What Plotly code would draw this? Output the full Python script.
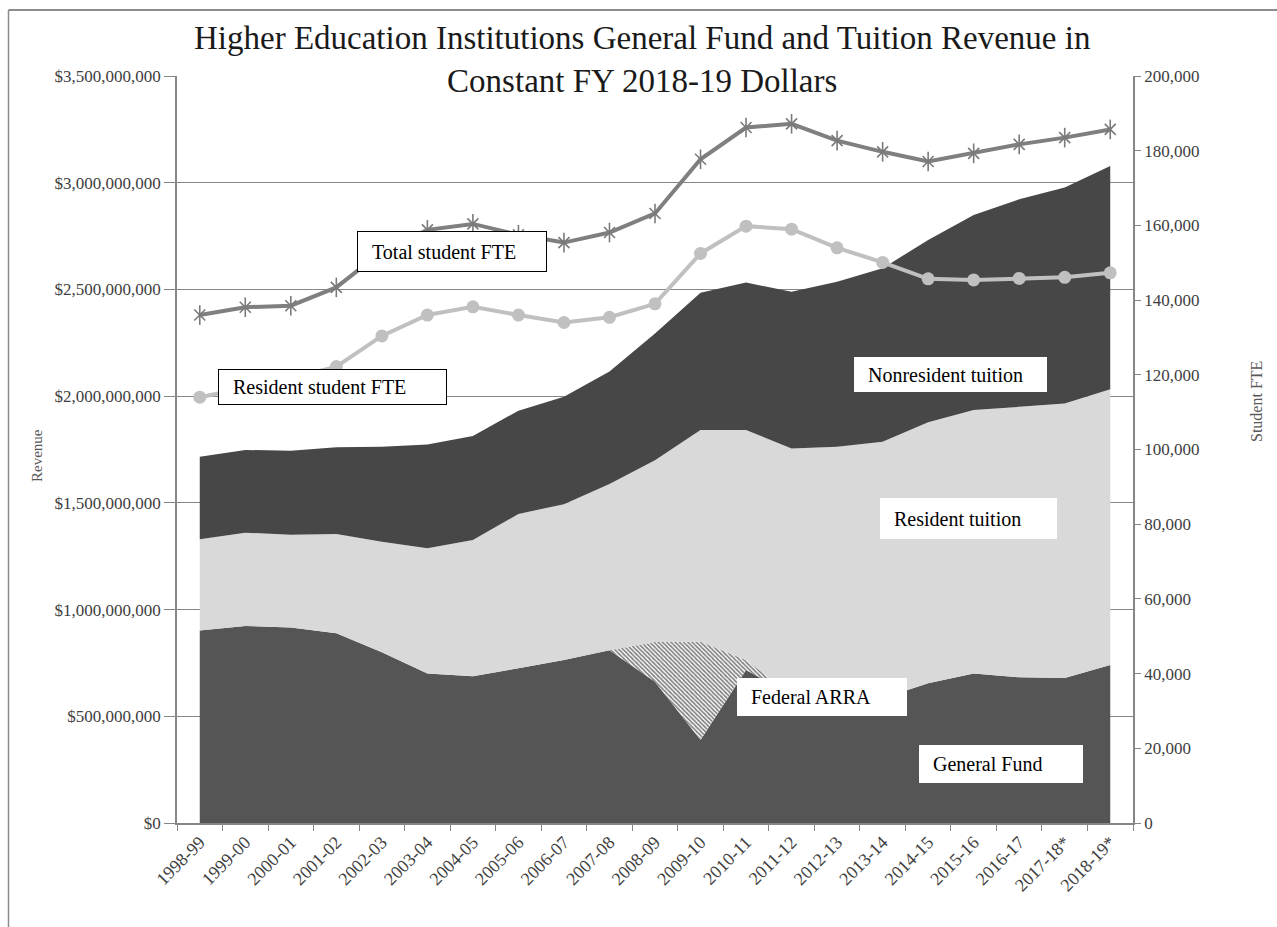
import plotly.graph_objects as go

# ---------------- data ----------------
years = ["1998-99", "1999-00", "2000-01", "2001-02", "2002-03", "2003-04", "2004-05",
         "2005-06", "2006-07", "2007-08", "2008-09", "2009-10", "2010-11", "2011-12",
         "2012-13", "2013-14", "2014-15", "2015-16", "2016-17", "2017-18*", "2018-19*"]

# revenue components, millions of constant FY 2018-19 dollars
general_fund_m = [902, 923, 916, 889, 800, 700, 687, 725, 764, 809, 662,
                  389, 717, 600, 585, 585, 655, 701, 683, 679, 740]
federal_arra_m = [0, 0, 0, 0, 0, 0, 0, 0, 0, 0, 186,
                  460, 47, 0, 0, 0, 0, 0, 0, 0, 0]
resident_tuition_m = [427, 437, 435, 465, 518, 587, 639, 723, 730, 779, 852,
                      992, 1077, 1155, 1178, 1201, 1223, 1234, 1267, 1287, 1292]
nonresident_tuition_m = [387, 388, 393, 406, 445, 487, 487, 484, 503, 527, 594,
                         644, 691, 734, 773, 813, 854, 914, 972, 1012, 1046]

# student FTE (right axis)
total_fte = [136000, 138100, 138500, 143400, 153000, 158800, 160400, 157500, 155400,
             158100, 163200, 177700, 186200, 187200, 182700, 179700, 177100, 179300,
             181700, 183500, 185700]
resident_fte = [114000, 116500, 119000, 122200, 130400, 136000, 138200, 136000, 134000,
                135400, 139000, 152500, 159800, 159000, 154000, 150100, 145700, 145400,
                145800, 146100, 147300]

# ---------------- styling ----------------
FONT = "Liberation Serif"
AXIS_COLOR = "#868686"
TICK_TEXT = "#404040"
STAR_COLOR = "#7a7a7a"

W, H = 1277, 927
L, R, T, B = 177, 1133, 76, 823


def px_x(px):
    return (px - L) / (R - L)


def px_y(py):
    return (B - py) / (B - T)


def dollars(vals):
    return [v * 1e6 for v in vals]


fig = go.Figure()

area_specs = [
    ("General Fund", general_fund_m, dict(fillcolor="#555555")),
    ("Federal ARRA", federal_arra_m, dict(fillcolor="white",
                                          fillpattern=dict(shape="\\", fgcolor="black",
                                                           bgcolor="white", size=3,
                                                           solidity=0.55))),
    ("Resident tuition", resident_tuition_m, dict(fillcolor="#d9d9d9")),
    ("Nonresident tuition", nonresident_tuition_m, dict(fillcolor="#474747")),
]
for name, vals, style in area_specs:
    fig.add_trace(go.Scatter(
        x=years, y=dollars(vals), name=name, stackgroup="rev", mode="none",
        line=dict(width=0), hoverinfo="skip", **style))

# Total student FTE: line + star markers (X plus vertical bar)
fig.add_trace(go.Scatter(
    x=years, y=total_fte, yaxis="y2", mode="lines+markers", name="Total student FTE",
    line=dict(color="#7f7f7f", width=4),
    marker=dict(symbol="x-thin-open", size=11, color=STAR_COLOR,
                line=dict(color=STAR_COLOR, width=1.6))))
fig.add_trace(go.Scatter(
    x=years, y=total_fte, yaxis="y2", mode="markers", showlegend=False,
    marker=dict(symbol="line-ns-open", size=14, color=STAR_COLOR,
                line=dict(color=STAR_COLOR, width=1.6))))

# Resident student FTE: line + circle markers
fig.add_trace(go.Scatter(
    x=years, y=resident_fte, yaxis="y2", mode="lines+markers", name="Resident student FTE",
    line=dict(color="#c0c0c0", width=4),
    marker=dict(symbol="circle", size=13, color="#c0c0c0")))

fig.update_layout(
    width=W, height=H,
    margin=dict(l=L, r=W - R, t=T, b=H - B, pad=0),
    paper_bgcolor="white", plot_bgcolor="white",
    showlegend=False,
    font=dict(family=FONT, size=17, color=TICK_TEXT),
    xaxis=dict(
        type="category", categoryorder="array", categoryarray=years,
        range=[-0.5, len(years) - 0.5],
        tickson="boundaries", ticks="outside", ticklen=6, tickcolor=AXIS_COLOR, tickwidth=1.3,
        showline=True, linecolor=AXIS_COLOR, linewidth=1.5,
        showgrid=False, tickangle=-45, tickfont=dict(size=18, color=TICK_TEXT),
    ),
    yaxis=dict(
        range=[0, 3.5e9], dtick=5e8, tickformat="$,.0f",
        showgrid=True, gridcolor=AXIS_COLOR, gridwidth=1.3, zeroline=False,
        showline=True, linecolor=AXIS_COLOR, linewidth=1.5,
        ticks="outside", ticklen=11, tickcolor=AXIS_COLOR, tickwidth=1.3,
        tickfont=dict(size=17, color=TICK_TEXT),
    ),
    yaxis2=dict(
        overlaying="y", side="right", range=[0, 200000], dtick=20000, tickformat=",d",
        showgrid=False, zeroline=False,
        showline=True, linecolor=AXIS_COLOR, linewidth=1.5,
        ticks="outside", ticklen=6, tickcolor=AXIS_COLOR, tickwidth=1.3,
        tickfont=dict(size=17, color=TICK_TEXT),
    ),
)

# Title (white background hides the top grid line like the original)
fig.add_annotation(
    xref="paper", yref="paper", x=px_x(642), y=px_y(60), xanchor="center", yanchor="middle",
    text="Higher Education Institutions General Fund and Tuition Revenue in<br>Constant FY 2018-19 Dollars",
    showarrow=False, bgcolor="white", borderpad=0,
    font=dict(family=FONT, size=33, color="#1a1a1a"))

# Outer chart border (drawn as separate edges)
border_color = "#8c8c8c"
fig.add_shape(type="line", xref="paper", yref="paper",
              x0=px_x(8.5), x1=px_x(1277), y0=px_y(10), y1=px_y(10),
              line=dict(color=border_color, width=2), layer="above")
fig.add_shape(type="line", xref="paper", yref="paper",
              x0=px_x(8.5), x1=px_x(8.5), y0=px_y(10), y1=px_y(927),
              line=dict(color=border_color, width=1.5), layer="above")

# Axis titles
fig.add_annotation(xref="paper", yref="paper", x=px_x(37), y=px_y(456),
                   xanchor="center", yanchor="middle",
                   text="Revenue", textangle=-90, showarrow=False,
                   font=dict(family=FONT, size=15, color="#595959"))
fig.add_annotation(xref="paper", yref="paper", x=px_x(1256), y=px_y(402),
                   xanchor="center", yanchor="middle",
                   text="Student FTE", textangle=-90, showarrow=False,
                   font=dict(family=FONT, size=16, color="#595959"))

# In-chart labels: (text, left px, top px, width px, height px, bordered)
labels = [
    ("Total student FTE", 357, 231, 190, 41, True),
    ("Resident student FTE", 218, 369, 229, 36, True),
    ("Nonresident tuition", 854, 357, 193, 35, False),
    ("Resident tuition", 880, 498, 177, 41, False),
    ("Federal ARRA", 737, 678, 170, 38, False),
    ("General Fund", 919, 745, 164, 38, False),
]
for text, lx, ty, w, h, bordered in labels:
    bw = 1 if bordered else 0
    fig.add_annotation(
        xref="paper", yref="paper", x=px_x(lx), y=px_y(ty),
        xanchor="left", yanchor="top", showarrow=False,
        text="&nbsp;&nbsp;" + text, align="left", valign="middle",
        width=w - 8 - 2 * bw, height=h - 8 - 2 * bw, borderpad=4,
        bgcolor="white", bordercolor="black" if bordered else "rgba(0,0,0,0)", borderwidth=bw,
        font=dict(family=FONT, size=20, color="black"))

fig.write_html("out.html", config={"displayModeBar": False},
               post_script="document.body.style.margin='0';document.body.style.overflow='hidden';")
